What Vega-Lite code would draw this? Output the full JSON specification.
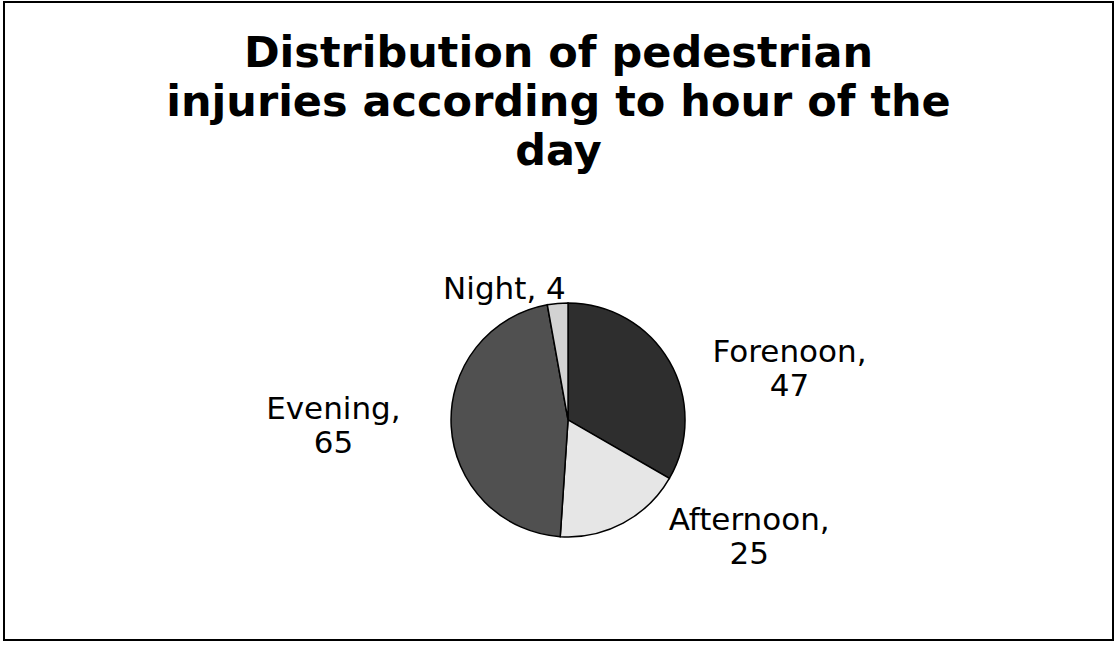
{
  "$schema": "https://vega.github.io/schema/vega-lite/v6.json",
  "width": 1109,
  "height": 638,
  "autosize": "none",
  "padding": {"left": 4, "top": 2, "right": 2, "bottom": 7},
  "background": "white",
  "config": {"view": {"stroke": "black", "strokeWidth": 2}},
  "title": {
    "text": ["Distribution of pedestrian", "injuries according to hour of the", "day"],
    "font": "DejaVu Sans",
    "fontSize": 43,
    "fontWeight": "bold",
    "lineHeight": 49,
    "color": "black",
    "anchor": "middle",
    "frame": "group",
    "offset": -172
  },
  "data": {
    "values": [
      {"period": "Forenoon", "injuries": 47, "order": 1, "label": "Forenoon,\n47"},
      {"period": "Afternoon", "injuries": 25, "order": 2, "label": "Afternoon,\n25"},
      {"period": "Evening", "injuries": 65, "order": 3, "label": "Evening,\n65"},
      {"period": "Night", "injuries": 4, "order": 4, "label": "Night, 4"}
    ]
  },
  "encoding": {
    "theta": {"field": "injuries", "type": "quantitative", "stack": true},
    "order": {"field": "order", "type": "quantitative"},
    "x": {"datum": 0.5086, "type": "quantitative", "scale": {"domain": [0, 1]}, "axis": null},
    "y": {"datum": 0.345, "type": "quantitative", "scale": {"domain": [0, 1]}, "axis": null}
  },
  "layer": [
    {
      "mark": {"type": "arc", "outerRadius": 117, "stroke": "black", "strokeWidth": 1.5},
      "encoding": {
        "color": {
          "field": "period",
          "type": "nominal",
          "scale": {
            "domain": ["Forenoon", "Afternoon", "Evening", "Night"],
            "range": ["#2e2e2e", "#e6e6e6", "#505050", "#d2d2d2"]
          },
          "legend": null
        }
      }
    },
    {
      "mark": {"type": "text", "radius": 235, "dx": 18, "dy": 51, "font": "DejaVu Sans", "fontSize": 31, "lineHeight": 34, "lineBreak": "\n", "color": "black"},
      "encoding": {"text": {"condition": {"test": "datum.period === 'Forenoon'", "field": "label"}, "value": ""}}
    },
    {
      "mark": {"type": "text", "radius": 200, "dx": 87, "dy": -75, "font": "DejaVu Sans", "fontSize": 31, "lineHeight": 34, "lineBreak": "\n", "color": "black"},
      "encoding": {"text": {"condition": {"test": "datum.period === 'Afternoon'", "field": "label"}, "value": ""}}
    },
    {
      "mark": {"type": "text", "radius": 235, "dx": 0, "dy": -23, "font": "DejaVu Sans", "fontSize": 31, "lineHeight": 34, "lineBreak": "\n", "color": "black"},
      "encoding": {"text": {"condition": {"test": "datum.period === 'Evening'", "field": "label"}, "value": ""}}
    },
    {
      "mark": {"type": "text", "radius": 130, "dx": -52, "dy": 0, "font": "DejaVu Sans", "fontSize": 31, "lineHeight": 34, "lineBreak": "\n", "color": "black"},
      "encoding": {"text": {"condition": {"test": "datum.period === 'Night'", "field": "label"}, "value": ""}}
    }
  ]
}
